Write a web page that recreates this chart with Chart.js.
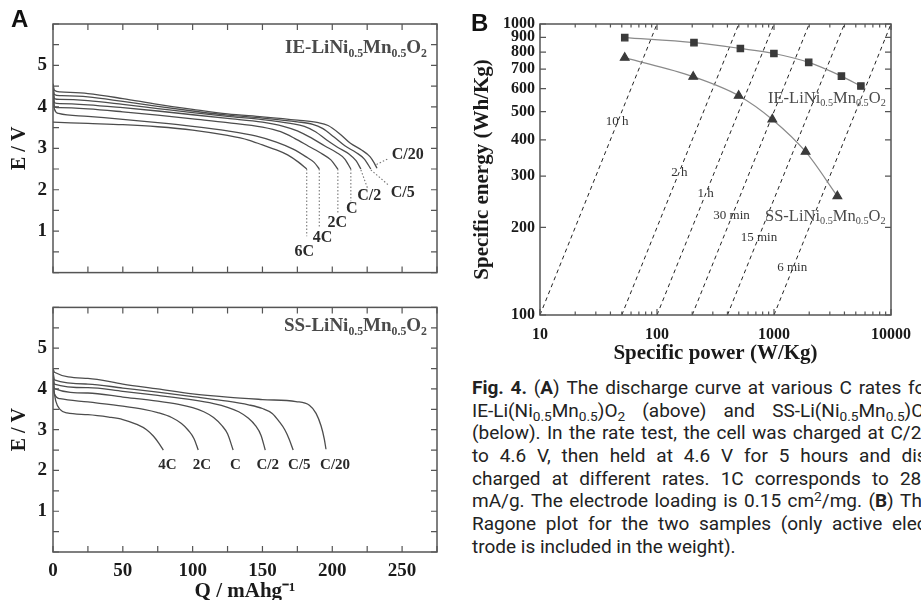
<!DOCTYPE html>
<html><head><meta charset="utf-8">
<script src="https://cdn.jsdelivr.net/npm/chart.js@4.4.1/dist/chart.umd.min.js"></script>
<style>
html,body{margin:0;padding:0;background:#fff;width:921px;height:600px;overflow:hidden;position:relative;}
canvas{position:absolute;display:block;}
.t{position:absolute;white-space:nowrap;font-family:'Liberation Serif',serif;color:#4a4a4a;}
.t sub{font-size:0.62em;vertical-align:-0.32em;line-height:0;}
.panel{position:absolute;font-family:'Liberation Sans',Arial,sans-serif;font-weight:bold;font-size:24px;color:#111;}
#cap{position:absolute;left:472px;top:377px;width:460px;font-family:Roboto,'Noto Sans',sans-serif;font-size:19px;color:#222;}
#cap .ln{height:22.7px;line-height:22.7px;white-space:nowrap;}
#cap .j{display:flex;justify-content:space-between;gap:3px;}
#cap sub{font-size:0.72em;vertical-align:-0.3em;line-height:0;}
#cap sup{font-size:0.72em;vertical-align:0.45em;line-height:0;}
</style></head><body>

<canvas id="cA1" width="460" height="290" style="left:0;top:0"></canvas>
<canvas id="cA2" width="460" height="330" style="left:0;top:290px"></canvas>
<canvas id="cB" width="461" height="370" style="left:460px;top:0"></canvas>

<div class="panel" style="left:11px;top:5px">A</div>
<div class="panel" style="left:471px;top:9px">B</div>

<div class="t" style="right:494px;top:36px;font-size:19px;font-weight:bold">IE-LiNi<sub>0.5</sub>Mn<sub>0.5</sub>O<sub>2</sub></div>
<div class="t" style="right:494px;top:314px;font-size:19px;font-weight:bold">SS-LiNi<sub>0.5</sub>Mn<sub>0.5</sub>O<sub>2</sub></div>
<div class="t" style="left:768px;top:88px;font-size:16.5px">IE-LiNi<sub>0.5</sub>Mn<sub>0.5</sub>O<sub>2</sub></div>
<div class="t" style="left:765px;top:206px;font-size:16.5px">SS-LiNi<sub>0.5</sub>Mn<sub>0.5</sub>O<sub>2</sub></div>

<div id="cap">
<div class="ln j"><b>Fig.</b> <b>4.</b> (<b>A</b>) The discharge curve at various C rates for</div>
<div class="ln j">IE-Li(Ni<sub>0.5</sub>Mn<sub>0.5</sub>)O<sub>2</sub> (above) and SS-Li(Ni<sub>0.5</sub>Mn<sub>0.5</sub>)O<sub>2</sub></div>
<div class="ln j">(below). In the rate test, the cell was charged at C/20</div>
<div class="ln j">to 4.6 V, then held at 4.6 V for 5 hours and dis-</div>
<div class="ln j">charged at different rates. 1C corresponds to 280</div>
<div class="ln j">mA/g. The electrode loading is 0.15 cm<sup>2</sup>/mg. (<b>B</b>) The</div>
<div class="ln j">Ragone plot for the two samples (only active elec-</div>
<div class="ln">trode is included in the weight).</div>
</div>

<script>
// ---------------- DATA ----------------
// Panel A (top): IE-LiNi0.5Mn0.5O2 discharge curves  [Q (mAh/g), E (V)]
const ie_C20 = [[0,4.56],[1,4.4],[5,4.36],[25,4.32],[50,4.2],[75,4.06],[100,3.94],[125,3.83],[150,3.76],[175,3.68],[190,3.62],[197,3.55],[205,3.36],[213,3.12],[221,2.96],[227,2.8],[230,2.65],[232,2.52]];
const ie_C5  = [[0,4.53],[1,4.3],[5,4.27],[25,4.24],[50,4.13],[75,4.01],[100,3.9],[125,3.8],[150,3.73],[175,3.64],[186,3.58],[193,3.48],[201,3.28],[209,3.06],[217,2.9],[223,2.74],[227.6,2.5]];
const ie_C2  = [[0,4.5],[1,4.2],[5,4.18],[25,4.15],[50,4.06],[75,3.96],[100,3.86],[125,3.77],[150,3.69],[170,3.6],[180,3.53],[188,3.4],[196,3.2],[204,3.02],[212,2.86],[217,2.7],[220.5,2.5]];
const ie_C   = [[0,4.47],[1,4.1],[5,4.08],[25,4.05],[50,3.98],[75,3.9],[100,3.81],[125,3.72],[150,3.63],[165,3.53],[175,3.42],[185,3.25],[195,3.05],[203,2.9],[209,2.74],[213.3,2.5]];
const ie_2C  = [[0,4.44],[1,4.0],[5,3.98],[25,3.95],[50,3.88],[75,3.8],[100,3.71],[125,3.62],[150,3.51],[163,3.4],[173,3.24],[183,3.05],[193,2.86],[199,2.72],[204,2.5]];
const ie_4C  = [[0,4.35],[1,3.95],[4,3.84],[25,3.77],[50,3.7],[75,3.62],[100,3.53],[125,3.42],[145,3.3],[160,3.15],[172,2.98],[181,2.8],[187,2.66],[190.7,2.5]];
const ie_6C  = [[0,3.63],[25,3.6],[50,3.57],[75,3.52],[100,3.44],[125,3.31],[140,3.2],[150,3.08],[160,2.96],[168,2.84],[176,2.66],[181.7,2.5]];
const ieCurves = [ie_C20, ie_C5, ie_C2, ie_C, ie_2C, ie_4C, ie_6C];
const ieRates  = ['C/20','C/5','C/2','C','2C','4C','6C'];
// dotted leader lines (start, end) and label anchors for the top panel
const ieLeaders = [[[231.7,2.61],[240.7,2.76]],[[227.6,2.48],[240.7,2.1]],[[220.5,2.48],[225.2,2.04]],[[213.3,2.5],[213.3,1.72]],[[204,2.5],[204,1.4]],[[190.7,2.5],[190.7,1.08]],[[181.7,2.5],[181.7,0.88]]];
const ieLabelQ = [254, 250.5, 226.4, 214, 203.5, 193, 180];
const ieLabelE = [2.83, 1.93, 1.86, 1.55, 1.19, 0.84, 0.5];

// Panel A (bottom): SS-LiNi0.5Mn0.5O2 discharge curves
const ss_C20 = [[0,4.5],[1,4.41],[25,4.26],[50,4.12],[75,4.0],[100,3.88],[125,3.8],[150,3.74],[174,3.69],[183.6,3.6],[188.4,3.4],[192,3.09],[194.3,2.77],[195.5,2.52]];
const ss_C5  = [[0,4.45],[1,4.22],[25,4.12],[50,4.02],[75,3.92],[100,3.81],[125,3.7],[140,3.61],[150,3.52],[157,3.4],[162,3.2],[166,3.0],[169,2.78],[172,2.5]];
const ss_C2  = [[0,4.42],[1,4.12],[25,4.03],[50,3.94],[75,3.84],[100,3.73],[115,3.64],[125,3.55],[133,3.44],[140,3.28],[145,3.1],[149,2.86],[152,2.5]];
const ss_C   = [[0,4.38],[1,4.01],[25,3.9],[50,3.8],[75,3.7],[90,3.62],[100,3.54],[108,3.44],[115,3.3],[121,3.1],[125,2.9],[129,2.5]];
const ss_2C  = [[0,4.32],[1,3.88],[5,3.76],[25,3.68],[50,3.58],[65,3.5],[75,3.42],[85,3.3],[92,3.15],[97,2.98],[101,2.78],[104,2.5]];
const ss_4C  = [[0,4.1],[2,3.7],[5,3.5],[10,3.41],[25,3.37],[40,3.31],[50,3.25],[60,3.13],[67,3.0],[72,2.84],[76,2.66],[79,2.5]];
const ssCurves = [ss_C20, ss_C5, ss_C2, ss_C, ss_2C, ss_4C];
const ssRates  = ['C/20','C/5','C/2','C','2C','4C'];
const ssLabelQ = [202, 176.4, 153.8, 130.7, 106.7, 82];
const ssLabelE = [2.14, 2.14, 2.14, 2.14, 2.14, 2.14];

const qTicks = [0,50,100,150,200,250];
const eTicks = [1,2,3,4,5];

// Panel B: Ragone plot
const ieP = [53, 207, 516, 998, 1980, 3770, 5530];
const ieE = [898, 863, 824, 792, 738, 662, 612];
const ssP = [53, 204, 499, 967, 1862, 3480];
const ssE = [766, 659, 567, 470, 364, 256];
// constant-time lines: power at E=100 and at E=1000
const isoLabels = ['10 h','2 h','1 h','30 min','15 min','6 min'];
const isoP100  = [10, 50, 100, 200, 400, 1000];
const isoP1000 = [100, 500, 1000, 2000, 4000, 10000];
const isoLabelP = [45.7, 155, 261, 434, 743, 1429];
const isoLabelE = [462, 308, 261, 219, 184, 146];
const powerTicks  = [10,20,30,40,50,60,70,80,90,100,200,300,400,500,600,700,800,900,1000,2000,3000,4000,5000,6000,7000,8000,9000,10000];
const powerLabels = [10,100,1000,10000];
const energyTicks = [100,200,300,400,500,600,700,800,900,1000];

// ---------------- PLUGINS ----------------
const frameTicks = {
  id:'frameTicks',
  afterDatasetsDraw(chart, args, o){
    const {ctx, chartArea:a, scales:{x, y}} = chart;
    ctx.save();
    ctx.strokeStyle = o.color || '#555';
    ctx.lineWidth = 1.5;
    ctx.strokeRect(a.left, a.top, a.right-a.left, a.bottom-a.top);
    ctx.lineWidth = 1.2;
    ctx.beginPath();
    x.ticks.forEach(t=>{
      const p = x.getPixelForValue(t.value); const L = o.xMajor(t.value) ? 6 : 3.5;
      ctx.moveTo(p, a.bottom); ctx.lineTo(p, a.bottom-L);
      ctx.moveTo(p, a.top); ctx.lineTo(p, a.top+L);
    });
    y.ticks.forEach(t=>{
      const p = y.getPixelForValue(t.value); const L = o.yMajor(t.value) ? 6 : 3.5;
      ctx.moveTo(a.left, p); ctx.lineTo(a.left+L, p);
      ctx.moveTo(a.right, p); ctx.lineTo(a.right-L, p);
    });
    ctx.stroke();
    ctx.restore();
  }
};
const textLabels = {
  id:'textLabels',
  afterDatasetsDraw(chart, args, o){
    if(!o.items) return;
    const {ctx, scales:{x, y}} = chart;
    ctx.save();
    o.items.forEach(it=>{
      ctx.font = it.font; ctx.fillStyle = it.color || '#222';
      ctx.textAlign = 'center'; ctx.textBaseline = 'middle';
      ctx.fillText(it.text, x.getPixelForValue(it.x), y.getPixelForValue(it.y));
    });
    ctx.restore();
  }
};

const serif = 'Liberation Serif';
const curveColor = '#4d4d4d';

function curveSets(curves){
  return curves.map(c=>({data:c.map(p=>({x:p[0],y:p[1]})), borderColor:curveColor, borderWidth:1.3, pointRadius:0, cubicInterpolationMode:'monotone', fill:false}));
}

function panelA(id, curves, extra, labels, opts){
  return new Chart(document.getElementById(id), {
    type:'line',
    data:{datasets: curveSets(curves).concat(extra)},
    options:{
      responsive:false, animation:false, events:[],
      layout:{padding:{top:opts.top, right:23, left:0, bottom:0}},
      plugins:{legend:{display:false}, tooltip:{enabled:false},
        frameTicks:{color:'#555', xMajor:v=>true, yMajor:v=>true},
        textLabels:{items:labels}},
      scales:{
        x:{type:'linear', min:0, max:275,
          afterFit:s=>{s.height=opts.xh;},
          grid:{display:false, drawTicks:false}, border:{display:false},
          ticks:{stepSize:25, display:opts.xlabels, padding:8, maxRotation:0, autoSkip:false, color:'#1a1a1a',
            font:{family:serif, size:19, weight:'bold'},
            callback:v=> qTicks.includes(v) ? String(v) : ''},
          title:{display:opts.xlabels, text:'Q / mAhg\u207B\u00B9', color:'#1a1a1a', font:{family:serif, size:21, weight:'bold'}, padding:{top:0,bottom:16}}
        },
        y:{type:'linear', min:0, max:6,
          afterFit:s=>{s.width=53;},
          grid:{display:false, drawTicks:false}, border:{display:false},
          ticks:{stepSize:0.5, padding:6, autoSkip:false, color:'#1a1a1a',
            font:{family:serif, size:19, weight:'bold'},
            callback:v=> eTicks.includes(v) ? String(v) : ''},
          title:{display:true, text:'E / V', color:'#1a1a1a', font:{family:serif, size:20, weight:'bold'}, padding:{top:8,bottom:0}}
        }
      }
    },
    plugins:[frameTicks, textLabels]
  });
}

// top panel: leader lines
const ieLeaderSets = ieLeaders.map(l=>({data:l.map(p=>({x:p[0],y:p[1]})), borderColor:'#777', borderWidth:1.1, borderDash:[1.5,2], pointRadius:0, fill:false}));
panelA('cA1', ieCurves, ieLeaderSets,
  ieRates.map((r,i)=>({text:r, x:ieLabelQ[i], y:ieLabelE[i], font:'bold 16px '+serif, color:'#2a2a2a'})),
  {top:24, xh:15, xlabels:false});
panelA('cA2', ssCurves, [],
  ssRates.map((r,i)=>({text:r, x:ssLabelQ[i], y:ssLabelE[i], font:'bold 15px '+serif, color:'#2a2a2a'})),
  {top:12, xh:68, xlabels:true});

// Panel B
const isoSets = isoLabels.map((l,i)=>({data:[{x:isoP100[i],y:100},{x:isoP1000[i],y:1000}], borderColor:'#222', borderWidth:1, borderDash:[4,3.5], pointRadius:0, fill:false}));
new Chart(document.getElementById('cB'), {
  type:'line',
  data:{datasets:[
    {data:ieP.map((p,i)=>({x:p,y:ieE[i]})), borderColor:'#8a8a8a', borderWidth:1.2, pointStyle:'rect', pointRadius:4.5, pointBackgroundColor:'#3a3a3a', pointBorderColor:'#3a3a3a', cubicInterpolationMode:'monotone', fill:false},
    {data:ssP.map((p,i)=>({x:p,y:ssE[i]})), borderColor:'#8a8a8a', borderWidth:1.2, pointStyle:'triangle', pointRadius:5, pointBackgroundColor:'#3a3a3a', pointBorderColor:'#3a3a3a', cubicInterpolationMode:'monotone', fill:false}
  ].concat(isoSets)},
  options:{
    responsive:false, animation:false, events:[],
    layout:{padding:{top:24, right:22, left:0, bottom:0}},
    plugins:{legend:{display:false}, tooltip:{enabled:false},
      frameTicks:{color:'#555', xMajor:v=>powerLabels.includes(v), yMajor:v=>true},
      textLabels:{items:isoLabels.map((l,i)=>({text:l, x:isoLabelP[i], y:isoLabelE[i], font:'13px '+serif, color:'#333'}))}},
    scales:{
      x:{type:'logarithmic', min:10, max:10000,
        afterBuildTicks:s=>{s.ticks = powerTicks.map(v=>({value:v}));},
        afterFit:s=>{s.height=55;},
        grid:{display:false, drawTicks:false}, border:{display:false},
        ticks:{padding:10, autoSkip:false, maxRotation:0, color:'#1a1a1a', font:{family:serif, size:16, weight:'bold'},
          callback:v=> powerLabels.includes(v) ? String(v) : ''},
        title:{display:true, text:'Specific power (W/Kg)', color:'#1a1a1a', font:{family:serif, size:21, weight:'bold'}, padding:{top:0,bottom:4}}
      },
      y:{type:'logarithmic', min:100, max:1000,
        afterBuildTicks:s=>{s.ticks = energyTicks.map(v=>({value:v}));},
        afterFit:s=>{s.width=80;},
        grid:{display:false, drawTicks:false}, border:{display:false},
        ticks:{padding:5, autoSkip:false, color:'#1a1a1a', font:{family:serif, size:16, weight:'bold'},
          callback:v=> energyTicks.includes(v) ? String(v) : ''},
        title:{display:true, text:'Specific energy (Wh/Kg)', color:'#1a1a1a', font:{family:serif, size:21, weight:'bold'}, padding:{top:10,bottom:0}}
      }
    }
  },
  plugins:[frameTicks, textLabels]
});

// justify caption lines word by word
document.querySelectorAll('#cap .j').forEach(el=>{
  el.innerHTML = el.innerHTML.trim().split(/\s+/).map(w=>'<span>'+w+'</span>').join('');
});
</script>
</body></html>
